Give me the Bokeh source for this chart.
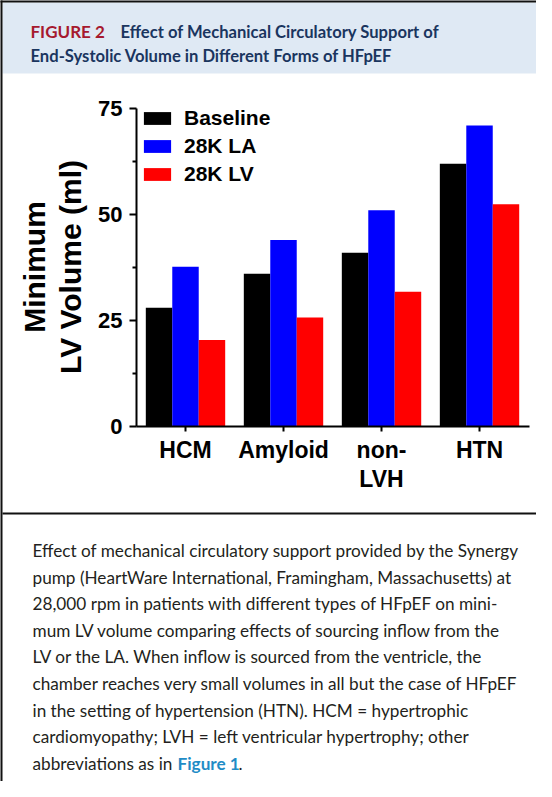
import numpy as np
from bokeh.plotting import figure
from bokeh.models import ColumnDataSource, FixedTicker, Legend, LegendItem, Range1d
from bokeh.embed import file_html
from bokeh.resources import INLINE
from bokeh.core.properties import value

# ---------------- data ----------------
categories = ["HCM", "Amyloid", "non-LVH", "HTN"]
category_labels = ["HCM", "Amyloid", "non-\nLVH", "HTN"]
series_names = ["Baseline", "28K LA", "28K LV"]
baseline = [28.0, 36.0, 41.0, 62.0]
la_28k = [37.7, 44.0, 51.0, 71.0]
lv_28k = [20.4, 25.7, 31.8, 52.4]
y_ticks = [0, 25, 50, 75]
y_minor_ticks = [12.5, 37.5, 62.5]
series_colors = ["#000000", "#0000ff", "#ff0000"]

title_tag = "FIGURE 2"
title_line1 = "Effect of Mechanical Circulatory Support of"
title_line2 = "End-Systolic Volume in Different Forms of HFpEF"
caption_lines = [
    "Effect of mechanical circulatory support provided by the Synergy",
    "pump (HeartWare International, Framingham, Massachusetts) at",
    "28,000 rpm in patients with different types of HFpEF on mini-",
    "mum LV volume comparing effects of sourcing inflow from the",
    "LV or the LA. When inflow is sourced from the ventricle, the",
    "chamber reaches very small volumes in all but the case of HFpEF",
    "in the setting of hypertension (HTN). HCM = hypertrophic",
    "cardiomyopathy; LVH = left ventricular hypertrophy; other",
    "abbreviations as in ",
]
caption_link = "Figure 1"
caption_end = "."

# ---------------- layout constants (canvas pixels) ----------------
W, H = 536, 781
FL, FR, FT, FB = 136, 529, 107, 426   # chart frame edges on the canvas
CHART_FONT = "Liberation Sans"
TEXT_FONT = "Lato"

centers = np.arange(1, len(categories) + 1)
bar_w = 0.27
offsets = [-bar_w, 0.0, bar_w]

p = figure(width=W, height=H, toolbar_location=None, output_backend="svg",
           x_range=Range1d(0.5, 4.51), y_range=Range1d(0, 75.24),
           min_border_left=FL, min_border_right=W - FR,
           min_border_top=FT, min_border_bottom=H - FB)
p.grid.visible = False
p.outline_line_color = None
p.border_fill_color = "#ffffff"
# canvas-pixel coordinate system for the surrounding page furniture
p.extra_x_ranges = {"px": Range1d(FL, FR)}
p.extra_y_ranges = {"py": Range1d(FB, FT)}
deco = dict(x_range_name="px", y_range_name="py")

# ---------------- bars + legend ----------------
items = []
for vals, off, col, name in zip([baseline, la_28k, lv_28k], offsets, series_colors, series_names):
    src = ColumnDataSource(dict(x=centers + off, top=vals))
    r = p.vbar(x="x", top="top", bottom=0, width=bar_w, source=src,
               fill_color=col, line_color=None)
    items.append(LegendItem(label=name, renderers=[r]))

legend = Legend(items=items, location=(4, 240), margin=0, padding=0, spacing=4,
                glyph_width=34, glyph_height=16, label_height=16, label_standoff=10,
                label_text_font=CHART_FONT, label_text_font_style="bold",
                label_text_font_size="21px", label_text_color="#000000",
                background_fill_alpha=0, border_line_color=None)
p.add_layout(legend)

# ---------------- axes ----------------
yax = p.yaxis[0]
yax.bounds = (0, 75)
yax.ticker = FixedTicker(ticks=y_ticks, minor_ticks=y_minor_ticks)
yax.axis_line_width = 2
yax.major_tick_line_width = 2
yax.minor_tick_line_width = 2
yax.major_tick_out = 7
yax.major_tick_in = 0
yax.minor_tick_out = 4
yax.minor_tick_in = 0
yax.major_label_text_font = CHART_FONT
yax.major_label_text_font_style = "bold"
yax.major_label_text_font_size = "22px"
yax.major_label_text_color = "#000000"
yax.major_label_standoff = 7
yax.axis_label = "Minimum\nLV Volume (ml)"
yax.axis_label_text_font = CHART_FONT
yax.axis_label_text_font_style = "bold"
yax.axis_label_text_font_size = "30px"
yax.axis_label_text_color = "#000000"
yax.axis_label_text_line_height = 1.1
yax.axis_label_standoff = 8

xax = p.xaxis[0]
xax.ticker = FixedTicker(ticks=list(centers))
xax.major_label_overrides = {int(c): lab for c, lab in zip(centers, category_labels)}
xax.axis_line_width = 2
xax.major_tick_line_width = 2
xax.major_tick_out = 5
xax.major_tick_in = 0
xax.minor_tick_out = 0
xax.minor_tick_in = 0
xax.major_label_text_font = CHART_FONT
xax.major_label_text_font_style = "bold"
xax.major_label_text_font_size = "23px"
xax.major_label_text_color = "#000000"
xax.major_label_text_line_height = 1.13
xax.major_label_standoff = 5

# ---------------- page furniture: borders, header, caption ----------------
p.quad(left=[2], right=[W], top=[2], bottom=[73], fill_color="#dfe9f4",
       line_color=None, level="annotation", **deco)
p.segment(x0=[1, 0, 2], y0=[0, 1, 513], x1=[1, W, W], y1=[H, 1, 513],
          line_color="#111111", line_width=2, level="annotation", **deco)

p.text(x=[30], y=[31], text=[title_tag], text_font=value(TEXT_FONT), text_font_style="bold",
       text_font_size="17px", text_color="#a6192e", text_baseline="alphabetic",
       level="overlay", **deco)
p.text(x=[120], y=[31], text=[title_line1], text_font=value(TEXT_FONT), text_font_style="bold",
       text_font_size="16.6px", text_color="#1a355f", text_baseline="alphabetic",
       level="overlay", **deco)
p.text(x=[30], y=[55], text=[title_line2], text_font=value(TEXT_FONT), text_font_style="bold",
       text_font_size="16.6px", text_color="#1a355f", text_baseline="alphabetic",
       level="overlay", **deco)

line_y = [550 + 26.6 * i for i in range(len(caption_lines))]
p.text(x=[32] * len(caption_lines), y=line_y, text=caption_lines, text_font=value(TEXT_FONT),
       text_font_size="17.2px", text_color="#231f20", text_baseline="alphabetic",
       level="overlay", **deco)
p.text(x=[177], y=[line_y[-1]], text=[caption_link], text_font=value(TEXT_FONT),
       text_font_style="bold", text_font_size="17.2px", text_color="#1f8cc6",
       text_baseline="alphabetic", level="overlay", **deco)
p.text(x=[238], y=[line_y[-1]], text=[caption_end], text_font=value(TEXT_FONT),
       text_font_size="17.2px", text_color="#231f20", text_baseline="alphabetic",
       level="overlay", **deco)

open("out.html", "w").write(file_html(p, INLINE))
